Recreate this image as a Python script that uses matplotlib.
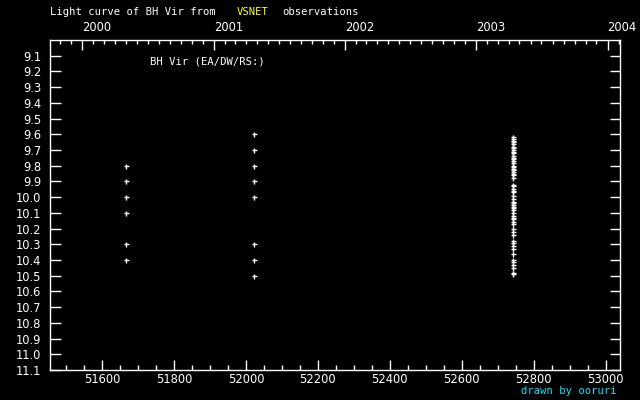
import datetime as dt
import matplotlib
matplotlib.use("Agg")
import matplotlib.pyplot as plt

# ---- data (JD - 2400000, visual magnitude) ----
jd_a = [51667, 51667, 51667, 51667, 51667, 51667]
mag_a = [9.8, 9.9, 10.0, 10.1, 10.3, 10.4]

jd_b = [52021, 52021, 52021, 52021, 52021, 52021, 52021, 52021]
mag_b = [9.6, 9.7, 9.8, 9.9, 10.0, 10.3, 10.4, 10.5]

mag_c = [9.62, 9.63, 9.64, 9.65, 9.66, 9.68, 9.69, 9.70, 9.71, 9.72, 9.74,
         9.75, 9.76, 9.77, 9.78, 9.80, 9.81, 9.82, 9.83, 9.84, 9.85, 9.86,
         9.88, 9.92, 9.93, 9.95, 9.96, 9.97, 9.99, 10.01, 10.03, 10.04,
         10.05, 10.06, 10.07, 10.08, 10.10, 10.12, 10.13, 10.14, 10.16,
         10.17, 10.20, 10.22, 10.24, 10.28, 10.29, 10.31, 10.33, 10.36,
         10.40, 10.41, 10.43, 10.45, 10.48, 10.49]
jd_c = [52742] * len(mag_c)

y_ticks = [9.1, 9.2, 9.3, 9.4, 9.5, 9.6, 9.7, 9.8, 9.9, 10.0, 10.1, 10.2,
           10.3, 10.4, 10.5, 10.6, 10.7, 10.8, 10.9, 11.0, 11.1]
x_major = [51600, 51800, 52000, 52200, 52400, 52600, 52800, 53000]
years = [2000, 2001, 2002, 2003, 2004]

plt.rcParams["font.family"] = ["DejaVu Sans Mono"]


def to_jd(d):
    # JD - 2400000 at 0h UT
    return d.toordinal() - dt.date(2000, 1, 1).toordinal() + 51544.5


PT = 72 / 100  # points per pixel at 100 dpi

fig = plt.figure(figsize=(6.4, 4.0), dpi=100, facecolor="black")
ax = fig.add_axes([50 / 640, 30 / 400, 570 / 640, 330 / 400], facecolor="black")

ms = dict(linestyle="none", marker="+", color="white", markersize=3.6,
          markeredgewidth=1.0)
ax.plot(jd_a, mag_a, **ms)
ax.plot(jd_b, mag_b, **ms)
ax.plot(jd_c, mag_c, **ms)

ax.set_xlim(51455, 53040)
ax.set_ylim(11.1, 9.0)

for s in ax.spines.values():
    s.set_color("white")
    s.set_linewidth(1.0)

fs = 7.6
tfs = 8.3
tick_font = "DejaVu Sans"
# y axis
ax.set_yticks(y_ticks)
ax.set_yticklabels([f"{v:.1f}" for v in y_ticks], family=tick_font)
ax.tick_params(axis="y", which="major", direction="in", length=10.5 * PT,
               width=1, colors="white", labelsize=tfs, left=True, right=True,
               pad=9 * PT)
# bottom x axis
ax.set_xticks(x_major)
ax.set_xticklabels([str(v) for v in x_major], family=tick_font)
ax.set_xticks(list(range(51500, 53040, 50)), minor=True)
ax.tick_params(axis="x", which="major", direction="in", length=10 * PT,
               width=1, colors="white", labelsize=tfs, top=False, pad=3 * PT)
ax.tick_params(axis="x", which="minor", direction="in", length=5 * PT,
               width=1, colors="white", top=False)

# top year axis
top = ax.twiny()
top.set_xlim(ax.get_xlim())
top.set_facecolor("none")
for s in top.spines.values():
    s.set_visible(False)
top.set_xticks([to_jd(dt.date(y, 1, 1)) for y in years])
top.set_xticklabels([str(y) for y in years], family=tick_font, ha="left")
months = [to_jd(dt.date(y, m, 1)) for y in range(1999, 2005) for m in range(1, 13)]
months = [m for m in months if 51455 <= m <= 53040]
top.set_xticks(months, minor=True)
top.tick_params(axis="x", which="major", direction="in", length=9.5 * PT,
                width=1, colors="white", labelsize=tfs, pad=6 * PT)
top.tick_params(axis="x", which="minor", direction="in", length=4 * PT,
                width=1, colors="white")

# texts
fig.text(50 / 640, 1 - 12 / 400, "Light curve of BH Vir from", color="white",
         fontsize=fs, va="center", ha="left")
fig.text(237 / 640, 1 - 12 / 400, "VSNET", color="yellow",
         fontsize=fs, va="center", ha="left")
fig.text(282 / 640, 1 - 12 / 400, "observations", color="white",
         fontsize=fs, va="center", ha="left")
fig.text(150 / 640, 1 - 61 / 400, "BH Vir (EA/DW/RS:)", color="white",
         fontsize=fs, va="center", ha="left")
fig.text(617 / 640, 1 - 391 / 400, "drawn by ooruri", color="#00e5ff",
         fontsize=fs, va="center", ha="right")

fig.savefig("out.png", dpi=100, facecolor="black")
